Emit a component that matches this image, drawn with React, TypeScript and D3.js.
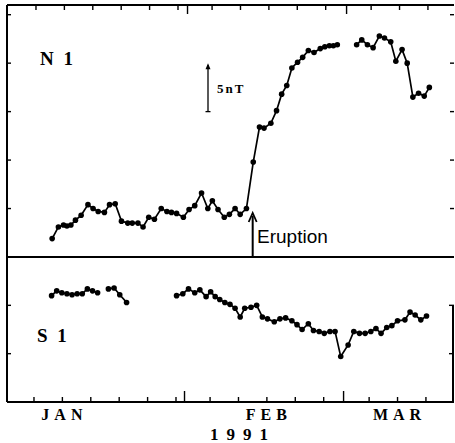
import React from "react";
import * as d3 from "d3";

// Frame
const W = 455;
const H = 443;
const LEFT = 7;
const RIGHT = 454;
const TOP = 5;
const MID = 257;
const BOTTOM = 402;

// Axis: day of year 1991 (1 = Jan 1)
const pentadTicks = [5, 10, 15, 20, 25, 30, 36, 41, 46, 51, 56, 64, 69, 74];
const monthEdges = [31.5, 59.5];
const monthLabels = ["JAN", "FEB", "MAR"];
const monthLabelDays = [10, 46, 69];
const yearLabel = "1991";
const n1Ticks = [5, 10, 15, 20, 25];
const s1Ticks = [5, 10];
const eruptionDay = 43.5;
const scaleBar = [15, 20]; // 5 nT

// N1 total field change (nT), [day, value]
const n1Early: [number, number][] = [
  [8.2, 1.9], [9.3, 3.1], [10.2, 3.3], [10.8, 3.2], [11.5, 3.3], [12.3, 3.8],
  [13.3, 4.3], [14.5, 5.4], [15.4, 5.0], [16.3, 4.7], [17.4, 4.6], [18.3, 5.4],
  [19.3, 5.5], [20.4, 3.7], [21.5, 3.5], [22.3, 3.5], [23.3, 3.5], [24.2, 3.1],
  [25.2, 4.1], [26.2, 3.9], [27.4, 5.0], [28.4, 4.7], [29.2, 4.6], [30.1, 4.5],
  [31.3, 4.1], [32.3, 4.9], [33.3, 5.3], [34.5, 6.6], [35.6, 5.0], [36.4, 5.8],
  [37.4, 4.9], [38.5, 4.1], [39.4, 4.4], [40.4, 5.0], [41.3, 4.4], [42.4, 5.0],
  [43.6, 9.8], [44.7, 13.4], [45.5, 13.3], [46.7, 13.8], [47.7, 15.1], [48.6, 16.8],
  [49.5, 17.7], [50.4, 19.5], [51.4, 20.1], [52.3, 20.6], [53.3, 21.3], [54.3, 21.1],
  [55.4, 21.5], [56.2, 21.7], [57.0, 21.8], [57.7, 21.8], [58.4, 21.9]
];
const n1Late: [number, number][] = [
  [61.8, 21.9], [62.7, 22.4], [63.7, 21.9], [64.7, 21.6], [65.8, 22.8], [66.7, 22.6],
  [67.8, 22.2], [68.7, 20.2], [69.8, 21.4], [70.7, 20.0], [71.7, 16.5], [72.7, 16.9],
  [73.7, 16.6], [74.6, 17.5]
];

// S1 total field change (nT), [day, value]
const s1Jan: [number, number][] = [
  [8.1, 11.0], [9.0, 11.5], [9.9, 11.3], [10.8, 11.2], [11.7, 11.1], [12.6, 11.2],
  [13.5, 11.2], [14.4, 11.7], [15.3, 11.5], [16.2, 11.3]
];
const s1Jan2: [number, number][] = [
  [18.1, 11.7], [19.1, 11.8], [20.1, 11.1], [21.3, 10.3]
];
const s1FebMar: [number, number][] = [
  [30.1, 11.0], [31.2, 11.2], [32.2, 11.7], [33.3, 11.3], [34.2, 11.6], [35.3, 10.9],
  [36.1, 11.4], [36.9, 10.9], [37.7, 10.6], [38.6, 10.3], [39.5, 10.1], [40.4, 9.7],
  [41.3, 8.8], [42.1, 9.7], [43.2, 9.8], [44.2, 10.0], [45.2, 8.8], [46.1, 8.6],
  [47.3, 8.3], [48.3, 8.6], [49.3, 8.7], [50.4, 8.4], [51.3, 8.0], [52.2, 7.5],
  [53.3, 8.1], [54.2, 7.4], [55.2, 7.3], [56.1, 7.1], [57.1, 7.3], [58.0, 7.3],
  [59.0, 4.7], [60.3, 5.9], [61.3, 7.3], [62.3, 7.1], [63.3, 7.1], [64.3, 7.3],
  [65.2, 7.6], [66.1, 7.1], [67.1, 7.7], [68.0, 7.9], [69.0, 8.4], [70.3, 8.5],
  [71.2, 9.3], [72.1, 9.0], [73.1, 8.5], [74.1, 8.9]
];

const SERIF = "'Liberation Serif', 'DejaVu Serif', serif";
const SANS = "'Liberation Sans', Arial, sans-serif";

export default function App() {
  const x = d3.scaleLinear().domain([0.25, 78.94]).range([LEFT, RIGHT]);
  const yN1 = d3.scaleLinear().domain([0, 26]).range([MID, TOP]);
  const yS1 = d3.scaleLinear().domain([0, 15]).range([BOTTOM, MID]);

  const series = (data: [number, number][], y: d3.ScaleLinear<number, number>, key: string) => {
    const line = d3.line<[number, number]>().x((d) => x(d[0])).y((d) => y(d[1]));
    return (
      <g key={key}>
        <path d={line(data) || ""} fill="none" stroke="#000" strokeWidth={1.7} />
        {data.map((d, i) => (
          <circle key={i} cx={x(d[0])} cy={y(d[1])} r={2.8} fill="#000" />
        ))}
      </g>
    );
  };

  const ex = x(eruptionDay);
  const barX = 208;

  return (
    <svg
      width={W}
      height={H}
      style={{ position: "absolute", left: 0, top: 0, background: "#fff" }}
    >
      {/* frame */}
      <line x1={LEFT} x2={RIGHT} y1={TOP} y2={TOP} stroke="#000" strokeWidth={2} />
      <line x1={LEFT} x2={LEFT} y1={TOP} y2={BOTTOM} stroke="#000" strokeWidth={2} />
      <line x1={LEFT} x2={RIGHT} y1={MID} y2={MID} stroke="#000" strokeWidth={2} />
      <line x1={LEFT} x2={RIGHT} y1={BOTTOM} y2={BOTTOM} stroke="#000" strokeWidth={2} />
      <line x1={RIGHT - 1} x2={RIGHT - 1} y1={yS1(10)} y2={BOTTOM} stroke="#000" strokeWidth={2} />

      {/* x ticks top and bottom */}
      {pentadTicks.map((d) => (
        <g key={"t" + d}>
          <line x1={x(d) + 2} x2={x(d) + 2} y1={TOP} y2={TOP + 5} stroke="#000" strokeWidth={1.4} />
          <line x1={x(d)} x2={x(d)} y1={BOTTOM} y2={BOTTOM - 5} stroke="#000" strokeWidth={1.4} />
        </g>
      ))}
      {monthEdges.map((d) => (
        <g key={"m" + d}>
          <line x1={x(d) + 3} x2={x(d) + 3} y1={TOP} y2={TOP + 9} stroke="#000" strokeWidth={1.4} />
          <line x1={x(d)} x2={x(d)} y1={BOTTOM} y2={BOTTOM - 11} stroke="#000" strokeWidth={1.4} />
        </g>
      ))}

      {/* y ticks */}
      {n1Ticks.map((v) => (
        <g key={"n" + v}>
          <line x1={LEFT} x2={LEFT + 4} y1={yN1(v)} y2={yN1(v)} stroke="#000" strokeWidth={1.4} />
          <line x1={RIGHT} x2={RIGHT - 4} y1={yN1(v)} y2={yN1(v)} stroke="#000" strokeWidth={1.4} />
        </g>
      ))}
      {s1Ticks.map((v) => (
        <g key={"s" + v}>
          <line x1={LEFT} x2={LEFT + 4} y1={yS1(v)} y2={yS1(v)} stroke="#000" strokeWidth={1.4} />
          <line x1={RIGHT} x2={RIGHT - 5} y1={yS1(v)} y2={yS1(v)} stroke="#000" strokeWidth={1.4} />
        </g>
      ))}

      {/* data */}
      {series(n1Early, yN1, "n1a")}
      {series(n1Late, yN1, "n1b")}
      {series(s1Jan, yS1, "s1a")}
      {series(s1Jan2, yS1, "s1b")}
      {series(s1FebMar, yS1, "s1c")}

      {/* panel labels */}
      <text x={40} y={65} fontFamily={SERIF} fontSize={19} fontWeight="bold" letterSpacing={2.5}>N 1</text>
      <text x={37} y={342} fontFamily={SERIF} fontSize={19} fontWeight="bold" letterSpacing={2.5}>S 1</text>

      {/* 5 nT scale bar */}
      <line x1={barX} x2={barX} y1={yN1(scaleBar[1]) + 2} y2={yN1(scaleBar[0])} stroke="#000" strokeWidth={1.3} />
      <line x1={barX - 2.5} x2={barX + 2.5} y1={yN1(scaleBar[0])} y2={yN1(scaleBar[0])} stroke="#000" strokeWidth={1.3} />
      <path
        d={`M${barX - 2.5},${yN1(scaleBar[1]) + 6} L${barX},${yN1(scaleBar[1])} L${barX + 2.5},${yN1(scaleBar[1]) + 6} Z`}
        fill="#000"
      />
      <text x={217} y={93} fontFamily={SERIF} fontSize={13} fontWeight="bold" letterSpacing={2}>5nT</text>

      {/* eruption marker */}
      <line x1={ex} x2={ex} y1={MID} y2={216} stroke="#000" strokeWidth={2} />
      <path d={`M${ex - 4},${222} L${ex},${213} L${ex + 4},${222}`} fill="none" stroke="#000" strokeWidth={1.8} />
      <text x={257} y={243} fontFamily={SANS} fontSize={19}>Eruption</text>

      {/* month labels */}
      {monthLabels.map((m, i) => (
        <text
          key={m}
          x={x(monthLabelDays[i]) + 2}
          y={420}
          textAnchor="middle"
          fontFamily={SERIF}
          fontSize={16}
          fontWeight="bold"
          letterSpacing={5}
        >
          {m}
        </text>
      ))}
      <text x={243} y={440} textAnchor="middle" fontFamily={SERIF} fontSize={17} fontWeight="bold" letterSpacing={8}>
        {yearLabel}
      </text>
    </svg>
  );
}
